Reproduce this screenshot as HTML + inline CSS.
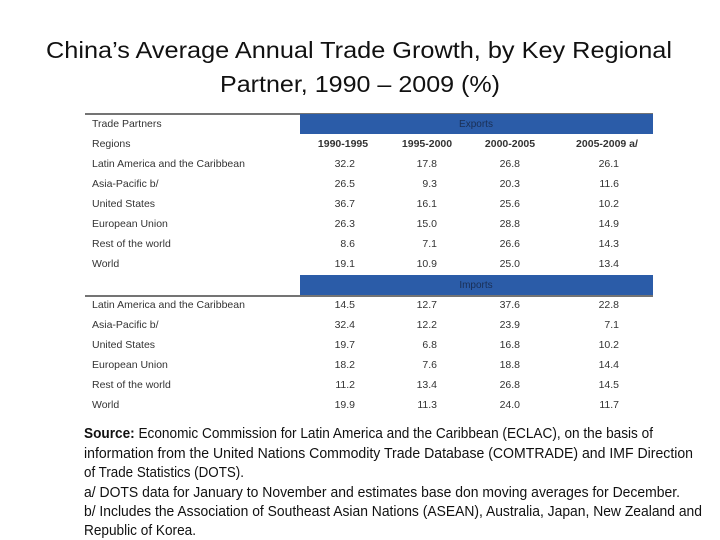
<!DOCTYPE html>
<html><head><meta charset="utf-8"><style>
body{margin:0;background:#fff}
svg{display:block}
</style></head><body>
<svg id="c" width="720" height="540" viewBox="0 0 720 540" font-family="'Liberation Sans', sans-serif">
<text x="359" y="58" font-size="23" text-anchor="middle" fill="#111" textLength="626" lengthAdjust="spacingAndGlyphs">China’s Average Annual Trade Growth, by Key Regional</text>
<text x="360" y="92" font-size="23" text-anchor="middle" fill="#111" textLength="280" lengthAdjust="spacingAndGlyphs">Partner, 1990 – 2009 (%)</text>
<line x1="85" y1="114" x2="653" y2="114" stroke="#222" stroke-width="1.2"/>
<rect x="300" y="114" width="353" height="20" fill="#2b5ca8"/>
<text x="476" y="127" font-size="10" text-anchor="middle" fill="#1a2f55">Exports</text>
<text x="92" y="127" font-size="10.5" fill="#333">Trade Partners</text>
<text x="92" y="147" font-size="10.5" fill="#333">Regions</text>
<rect x="300" y="275" width="353" height="20" fill="#2b5ca8"/>
<text x="476" y="288" font-size="10" text-anchor="middle" fill="#1a2f55">Imports</text>
<line x1="85" y1="296" x2="653" y2="296" stroke="#222" stroke-width="1.2"/>
<g id="tbl"></g>
<g font-size="14.5" fill="#111">
<text x="84" y="438" textLength="569" lengthAdjust="spacingAndGlyphs"><tspan font-weight="bold">Source:</tspan> Economic Commission for Latin America and the Caribbean (ECLAC), on the basis of</text>
<text x="84" y="458" textLength="609" lengthAdjust="spacingAndGlyphs">information from the United Nations Commodity Trade Database (COMTRADE) and IMF Direction</text>
<text x="84" y="477" textLength="160" lengthAdjust="spacingAndGlyphs">of Trade Statistics (DOTS).</text>
<text x="84" y="497" textLength="596" lengthAdjust="spacingAndGlyphs">a/ DOTS data for January to November and estimates base don moving averages for December.</text>
<text x="84" y="516" textLength="618" lengthAdjust="spacingAndGlyphs">b/ Includes the Association of Southeast Asian Nations (ASEAN), Australia, Japan, New Zealand and</text>
<text x="84" y="535" textLength="112" lengthAdjust="spacingAndGlyphs">Republic of Korea.</text>
</g>
</svg>
<script>
const periods = ["1990-1995","1995-2000","2000-2005","2005-2009 a/"];
const regions = ["Latin America and the Caribbean","Asia-Pacific b/","United States","European Union","Rest of the world","World"];
const exportsVals = [[32.2,17.8,26.8,26.1],[26.5,9.3,20.3,11.6],[36.7,16.1,25.6,10.2],[26.3,15.0,28.8,14.9],[8.6,7.1,26.6,14.3],[19.1,10.9,25.0,13.4]];
const importsVals = [[14.5,12.7,37.6,22.8],[32.4,12.2,23.9,7.1],[19.7,6.8,16.8,10.2],[18.2,7.6,18.8,14.4],[11.2,13.4,26.8,14.5],[19.9,11.3,24.0,11.7]];
const NS="http://www.w3.org/2000/svg";
const g=document.getElementById('tbl');
const colCenter=[343,427,510,607], colRight=[355,437,520,619];
function t(x,y,s,anchor,bold){const e=document.createElementNS(NS,'text');e.setAttribute('x',x);e.setAttribute('y',y);e.setAttribute('font-size','10.5');e.setAttribute('fill','#333');if(anchor)e.setAttribute('text-anchor',anchor);if(bold)e.setAttribute('font-weight','bold');e.textContent=s;g.appendChild(e);return e;}
periods.forEach((p,i)=>{const e=t(colCenter[i],147,p,'middle',true);

});
function block(vals,y0,name){regions.forEach((r,ri)=>{const y=y0+ri*20;const l=t(92,y,r);


vals[ri].forEach((v,ci)=>{const e=t(colRight[ci],y,v.toFixed(1),'end');

});});}
block(exportsVals,167,'exports');
block(importsVals,308,'imports');
</script>
</body></html>
